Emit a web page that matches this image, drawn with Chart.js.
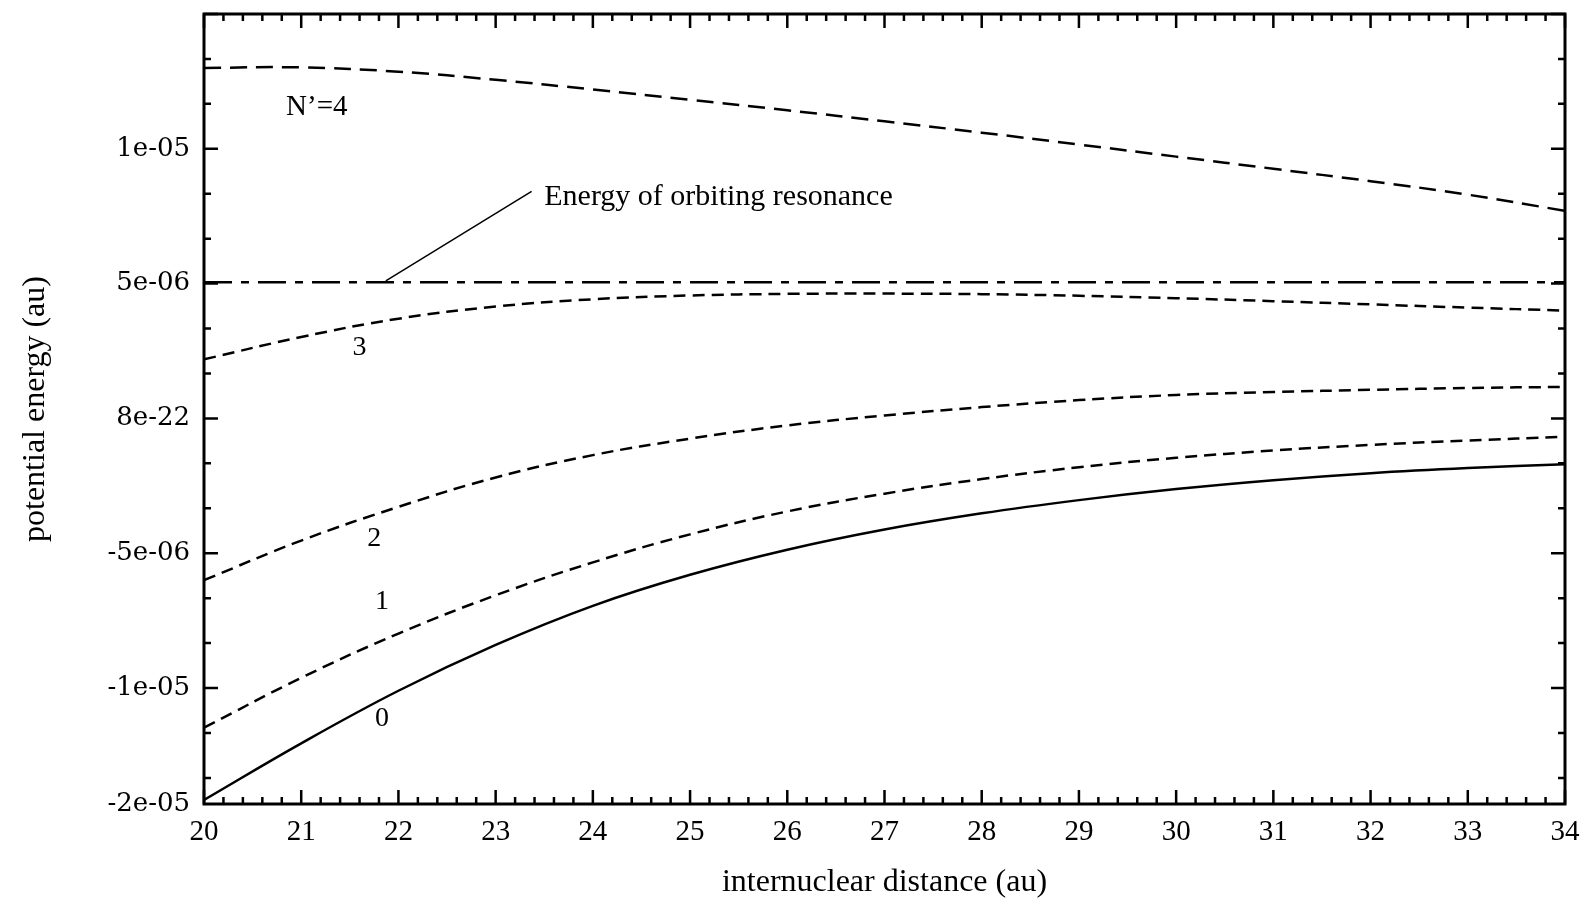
<!DOCTYPE html>
<html>
<head>
<meta charset="utf-8">
<title>potential energy curves</title>
<script src="https://cdn.jsdelivr.net/npm/chart.js@4.4.0/dist/chart.umd.min.js"></script>
<style>
  html, body { margin: 0; padding: 0; background: #fff; }
  #wrap { width: 1595px; height: 906px; }
</style>
</head>
<body>
<div id="wrap"><canvas id="pot"></canvas></div>
<script>
// internuclear distance (au)
const distance = [20, 21, 22, 23, 24, 25, 26, 27, 28, 29, 30, 31, 32, 33, 34];

// potential energy (au) for each N' curve
const level0 = [-1.415e-05, -1.205e-05, -1.010e-05, -8.40e-06, -6.95e-06, -5.80e-06, -4.87e-06, -4.12e-06, -3.52e-06, -3.03e-06, -2.62e-06, -2.29e-06, -2.03e-06, -1.84e-06, -1.70e-06];
const level1 = [-1.147e-05, -9.62e-06, -7.98e-06, -6.56e-06, -5.34e-06, -4.30e-06, -3.45e-06, -2.79e-06, -2.25e-06, -1.81e-06, -1.46e-06, -1.19e-06, -9.8e-07, -8.2e-07, -6.8e-07];
const level2 = [-6.00e-06, -4.53e-06, -3.28e-06, -2.19e-06, -1.36e-06, -7.5e-07, -2.6e-07, 1.1e-07, 4.2e-07, 6.8e-07, 8.7e-07, 9.8e-07, 1.06e-06, 1.13e-06, 1.17e-06];
const level3 = [2.19e-06, 3.02e-06, 3.70e-06, 4.15e-06, 4.42e-06, 4.56e-06, 4.62e-06, 4.63e-06, 4.61e-06, 4.55e-06, 4.46e-06, 4.35e-06, 4.23e-06, 4.11e-06, 4.00e-06];
const level4 = [1.300e-05, 1.302e-05, 1.286e-05, 1.256e-05, 1.220e-05, 1.182e-05, 1.143e-05, 1.102e-05, 1.060e-05, 1.016e-05, 9.71e-06, 9.26e-06, 8.80e-06, 8.30e-06, 7.70e-06];

// energy of the orbiting resonance (flat line)
const resonanceX = [20, 34];
const resonance = [5.05e-06, 5.05e-06];

// axis ticks as printed on the figure
const yTickValues = [-1.43e-05, -1e-05, -5e-06, 0, 5e-06, 1e-05];
const yTickLabels = ['-2e-05', '-1e-05', '-5e-06', '8e-22', '5e-06', '1e-05'];
const yMajor = [-1e-05, -5e-06, 0, 5e-06, 1e-05, 1.5e-05];

const xMin = 20, xMax = 34;
const yMin = -1.43e-05, yMax = 1.5e-05;

function pts(xs, ys) {
  return xs.map((x, i) => ({ x: x, y: ys[i] }));
}

function curve(values, dash) {
  return {
    data: pts(distance, values),
    borderColor: '#000',
    borderWidth: 2.5,
    borderDash: dash,
    pointRadius: 0,
    tension: 0.4,
    fill: false
  };
}

// text labels placed in data coordinates
const notes = [
  { text: 'N\u2019=4', x: 21.16, y: 1.155e-05, size: 29 },
  { text: '3', x: 21.6, y: 2.64e-06, size: 28 },
  { text: '2', x: 21.75, y: -4.45e-06, size: 28 },
  { text: '1', x: 21.83, y: -6.79e-06, size: 28 },
  { text: '0', x: 21.83, y: -1.113e-05, size: 28 }
];
const resonanceNote = { text: 'Energy of orbiting resonance', x: 23.5, y: 8.19e-06, size: 30 };
const pointer = { x1: 21.87, y1: 5.1e-06, x2: 23.37, y2: 8.42e-06 };

const frame = {
  id: 'frame',
  afterDatasetsDraw(chart) {
    const { ctx, chartArea: a, scales } = chart;
    const xs = scales.x, ys = scales.y;
    ctx.save();
    ctx.fillStyle = '#000';
    ctx.strokeStyle = '#000';

    // curve labels
    ctx.textAlign = 'center';
    ctx.textBaseline = 'middle';
    notes.forEach(n => {
      ctx.font = n.size + 'px "Liberation Serif"';
      ctx.fillText(n.text, xs.getPixelForValue(n.x), ys.getPixelForValue(n.y));
    });
    ctx.textAlign = 'left';
    ctx.font = resonanceNote.size + 'px "Liberation Serif"';
    ctx.fillText(resonanceNote.text, xs.getPixelForValue(resonanceNote.x), ys.getPixelForValue(resonanceNote.y));

    ctx.lineWidth = 1.5;
    ctx.beginPath();
    ctx.moveTo(xs.getPixelForValue(pointer.x1), ys.getPixelForValue(pointer.y1));
    ctx.lineTo(xs.getPixelForValue(pointer.x2), ys.getPixelForValue(pointer.y2));
    ctx.stroke();

    // inward ticks on all four sides
    ctx.lineWidth = 2.5;
    ctx.beginPath();
    const steps = Math.round((xMax - xMin) * 5);
    for (let i = 0; i <= steps; i++) {
      const px = xs.getPixelForValue(xMin + i / 5);
      const len = i % 5 === 0 ? 14 : 7;
      ctx.moveTo(px, a.bottom); ctx.lineTo(px, a.bottom - len);
      ctx.moveTo(px, a.top); ctx.lineTo(px, a.top + len);
    }
    const yStep = 5e-06;
    yMajor.forEach(v => {
      const py = ys.getPixelForValue(v);
      ctx.moveTo(a.left, py); ctx.lineTo(a.left + 14, py);
      ctx.moveTo(a.right, py); ctx.lineTo(a.right - 14, py);
      for (let k = 1; k <= 2; k++) {
        const m = v - k * yStep / 3;
        if (m <= yMin) continue;
        const pm = ys.getPixelForValue(m);
        ctx.moveTo(a.left, pm); ctx.lineTo(a.left + 7, pm);
        ctx.moveTo(a.right, pm); ctx.lineTo(a.right - 7, pm);
      }
    });
    ctx.stroke();

    ctx.lineWidth = 3;
    ctx.strokeRect(a.left, a.top, a.right - a.left, a.bottom - a.top);
    ctx.restore();
  }
};

const ctx = document.getElementById('pot').getContext('2d');
new Chart(ctx, {
  type: 'line',
  data: {
    datasets: [
      curve(level0, []),
      curve(level1, [12, 7]),
      curve(level2, [12, 7]),
      curve(level3, [12, 7]),
      curve(level4, [17, 9]),
      {
        data: pts(resonanceX, resonance),
        borderColor: '#000',
        borderWidth: 2.5,
        borderDash: [28, 9, 8, 9],
        pointRadius: 0,
        fill: false
      }
    ]
  },
  options: {
    responsive: true,
    maintainAspectRatio: false,
    animation: false,
    layout: { padding: { top: 14, right: 30, left: 0, bottom: 0 } },
    plugins: {
      legend: { display: false },
      tooltip: { enabled: false }
    },
    scales: {
      x: {
        type: 'linear',
        min: xMin,
        max: xMax,
        grid: { display: false },
        border: { display: false },
        ticks: {
          stepSize: 1,
          color: '#000',
          padding: 3,
          maxRotation: 0,
          font: { family: '"Liberation Serif"', size: 29 }
        },
        title: {
          display: true,
          text: 'internuclear distance (au)',
          color: '#000',
          font: { family: '"Liberation Serif"', size: 32 },
          padding: { top: 0, bottom: 4 }
        },
        afterFit(scale) { scale.height = 102; }
      },
      y: {
        type: 'linear',
        min: yMin,
        max: yMax,
        grid: { display: false },
        border: { display: false },
        afterBuildTicks(scale) {
          scale.ticks = yTickValues.map(v => ({ value: v }));
        },
        ticks: {
          color: '#000',
          padding: 6,
          font: { family: '"DejaVu Serif"', size: 26 },
          callback: (value, index) => yTickLabels[index]
        },
        title: {
          display: true,
          text: 'potential energy (au)',
          color: '#000',
          font: { family: '"Liberation Serif"', size: 32 },
          padding: { top: 16, bottom: 0 }
        },
        afterFit(scale) {
          scale.width = 204;
          scale.paddingTop = 0;
          scale.paddingBottom = 0;
        }
      }
    }
  },
  plugins: [frame]
});
</script>
</body>
</html>
